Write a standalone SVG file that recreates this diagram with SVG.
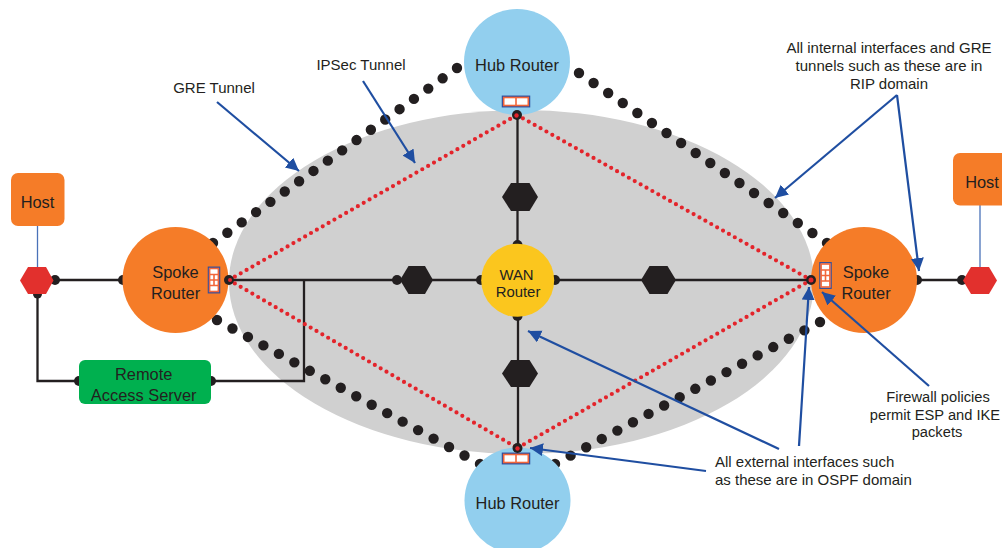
<svg xmlns="http://www.w3.org/2000/svg" width="1002" height="548" viewBox="0 0 1002 548">
<style>
text{font-family:"Liberation Sans",Arial,sans-serif;font-size:16.4px;fill:#231f20;text-anchor:middle}
.s{font-size:15px}
.f{font-size:14.700px}
.l{text-anchor:start}
.w{font-size:14.9px}
.wire{fill:none;stroke:#231f20;stroke-width:2.300}
.thin{fill:none;stroke:#4a72b8;stroke-width:1.300}
.gre{fill:none;stroke:#231f20;stroke-width:10.400;stroke-linecap:round;stroke-dasharray:0 1}
.ips{fill:none;stroke:#e3242b;stroke-width:4.200;stroke-linecap:round;stroke-dasharray:0 6.75}
.note{fill:none;stroke:#1f4ea1;stroke-width:2.200;marker-end:url(#arr)}
.dot{fill:#231f20}
.red{fill:#e3242b}
.hex{fill:#231f20}
.hexr{fill:#e2302d}
.fwb{fill:#fff;stroke:#2f4f9f;stroke-width:1.500}
.fwi{fill:none;stroke:#f2663a;stroke-width:1.600}
.orange{fill:#f57c28}
.blue{fill:#92cfee}
</style>
<defs>
<marker id="arr" markerUnits="userSpaceOnUse" markerWidth="14" markerHeight="14" refX="13" refY="6.5" orient="auto">
<path d="M0 0L13 6.5L0 13Z" fill="#1f4ea1"/>
</marker>
<g id="fw-h">
<rect class="fwb" x="-13.500" y="-5.200" width="27" height="10.400"/>
<rect class="fwi" x="-12.300" y="-4" width="24.600" height="8"/>
<path class="fwi" d="M0 -4V4"/>
</g>
<g id="fw-v">
<rect class="fwb" x="-5.500" y="-12.700" width="11" height="25.400"/>
<rect class="fwi" x="-4.400" y="-11.500" width="8.800" height="23"/>
<path class="fwi" d="M-4.400 -5.500H4.400M-4.400 5.500H4.400M0 -5.500V5.500M-4.400 0H4.400" stroke-width="1.200"/>
</g>
</defs>

<ellipse id="cloud" cx="521.500" cy="282" rx="292.500" ry="172" fill="#d0d0d0"/>

<g id="connectors">
<path class="wire" d="M229 280H810"/>
<path class="wire" d="M517.500 115V246"/>
<path class="wire" d="M518 316V448"/>
<path class="wire" d="M55 280H123"/>
<path class="wire" d="M37.500 294V381H79"/>
<path class="wire" d="M211 381H304V280"/>
<path class="wire" d="M917 280H963"/>
<path class="thin" d="M37.500 226V268"/>
<path class="thin" d="M980 205V268"/>
<path class="gre" pathLength="17.001" d="M213 243L457 68"/>
<path class="gre" pathLength="17.001" d="M579 73L827 243"/>
<path class="gre" pathLength="17.001" d="M217 320L480 464"/>
<path class="gre" pathLength="17.001" d="M820 322L555 464"/>
<path class="ips" d="M229 280L517 115"/>
<path class="ips" d="M517 115L811 280"/>
<path class="ips" d="M229 280L517.500 448"/>
<path class="ips" d="M811 280L517.500 448"/>
<circle class="dot" cx="55" cy="280" r="5"/>
<circle class="dot" cx="37.500" cy="294" r="4.500"/>
<circle class="dot" cx="123" cy="280" r="5"/>
<circle class="dot" cx="79" cy="381" r="5"/>
<circle class="dot" cx="211" cy="381" r="5"/>
<circle class="dot" cx="917" cy="280" r="5"/>
<circle class="dot" cx="962" cy="280" r="5"/>
<circle class="dot" cx="397" cy="280" r="5"/>
<circle class="dot" cx="517.500" cy="245" r="5"/>
<circle class="dot" cx="517.500" cy="316" r="5"/>
<circle class="dot" cx="481" cy="280" r="5"/>
<circle class="dot" cx="555" cy="280" r="5"/>
</g>

<g id="hub-top"><circle class="blue" cx="517" cy="62" r="53"/><text x="517" y="71">Hub Router</text><use href="#fw-h" x="516" y="101.500"/></g>
<g id="hub-bottom"><circle class="blue" cx="517.500" cy="500.500" r="53"/><text x="517.500" y="509">Hub Router</text><use href="#fw-h" x="516" y="458.500"/></g>
<g id="spoke-left"><circle class="orange" cx="175.500" cy="280" r="53"/><text x="175.500" y="278">Spoke</text><text x="175.500" y="299">Router</text><use href="#fw-v" x="214" y="280"/></g>
<g id="spoke-right"><circle class="orange" cx="864" cy="280" r="53"/><text x="866" y="278">Spoke</text><text x="866" y="299">Router</text><use href="#fw-v" x="825.500" y="275.500"/></g>
<g id="wan-router"><circle cx="517.700" cy="280.300" r="36.500" fill="#fbc61e"/><text class="w" x="516.500" y="280">WAN</text><text class="w" x="518" y="297">Router</text></g>
<g id="host-left"><rect class="orange" x="11" y="173" width="53.500" height="53" rx="7"/><text x="37.500" y="208">Host</text></g>
<g id="host-right"><rect class="orange" x="953" y="153" width="60" height="52.500" rx="7"/><text x="982" y="188">Host</text></g>
<g id="switch-left"><path class="hexr" d="M20 280.500L28 267H46L53.500 280.500L46 294H28Z"/></g>
<g id="switch-right"><path class="hexr" d="M963 280.500L971 267H989L997 280.500L989 294H971Z"/></g>
<g id="ras"><rect x="79" y="360" width="132" height="44" rx="6" fill="#00b04f"/><text x="143.700" y="380">Remote</text><text x="143.700" y="400.500">Access Server</text></g>
<g id="wan-hex-left"><path class="hex" d="M400 280L408.500 266H425L433 280L425 294H408.500Z"/></g>
<g id="wan-hex-right"><path class="hex" d="M641 280L649.500 266H667.500L676 280L667.500 294H649.500Z"/></g>
<g id="wan-hex-top"><path class="hex" d="M502 197L511 183H529.500L538 197L529.500 211H511Z"/></g>
<g id="wan-hex-bottom"><path class="hex" d="M502 373.500L511 360H529.500L538 373.500L529.500 387H511Z"/></g>

<g id="interfaces">
<circle class="dot" cx="229" cy="280" r="5"/><circle class="red" cx="230" cy="280" r="2"/>
<circle class="dot" cx="811" cy="280" r="5"/><circle class="red" cx="811" cy="280" r="2.500"/>
<circle class="dot" cx="517" cy="115" r="5"/><circle class="red" cx="516.500" cy="115.500" r="2.200"/>
<circle class="dot" cx="517.500" cy="448" r="5"/><circle class="red" cx="517.500" cy="448.500" r="2.200"/>
</g>

<g id="annotations">
<path class="note" d="M217 102L299 171"/>
<path class="note" d="M363 81L415 163"/>
<path class="note" d="M897 95L775 198"/>
<path class="note" d="M897 95L919 271"/>
<path class="note" d="M929 386L822 292"/>
<path class="note" d="M779 449L528 331"/>
<path class="note" d="M799 446L809 287"/>
<path class="note" d="M706 471L530 448"/>
<text class="s" x="214" y="93">GRE Tunnel</text>
<text class="s" x="361" y="70">IPSec Tunnel</text>
<text class="s" x="889" y="53">All internal interfaces and GRE</text>
<text class="s" x="889" y="71">tunnels such as these are in</text>
<text class="s" x="889" y="89">RIP domain</text>
<text class="f" x="938" y="402">Firewall policies</text>
<text class="f" x="935" y="420">permit ESP and IKE</text>
<text class="f" x="937" y="437">packets</text>
<text class="s l" x="715" y="467">All external interfaces such</text>
<text class="s l" x="715" y="485">as these are in OSPF domain</text>
</g>
</svg>
